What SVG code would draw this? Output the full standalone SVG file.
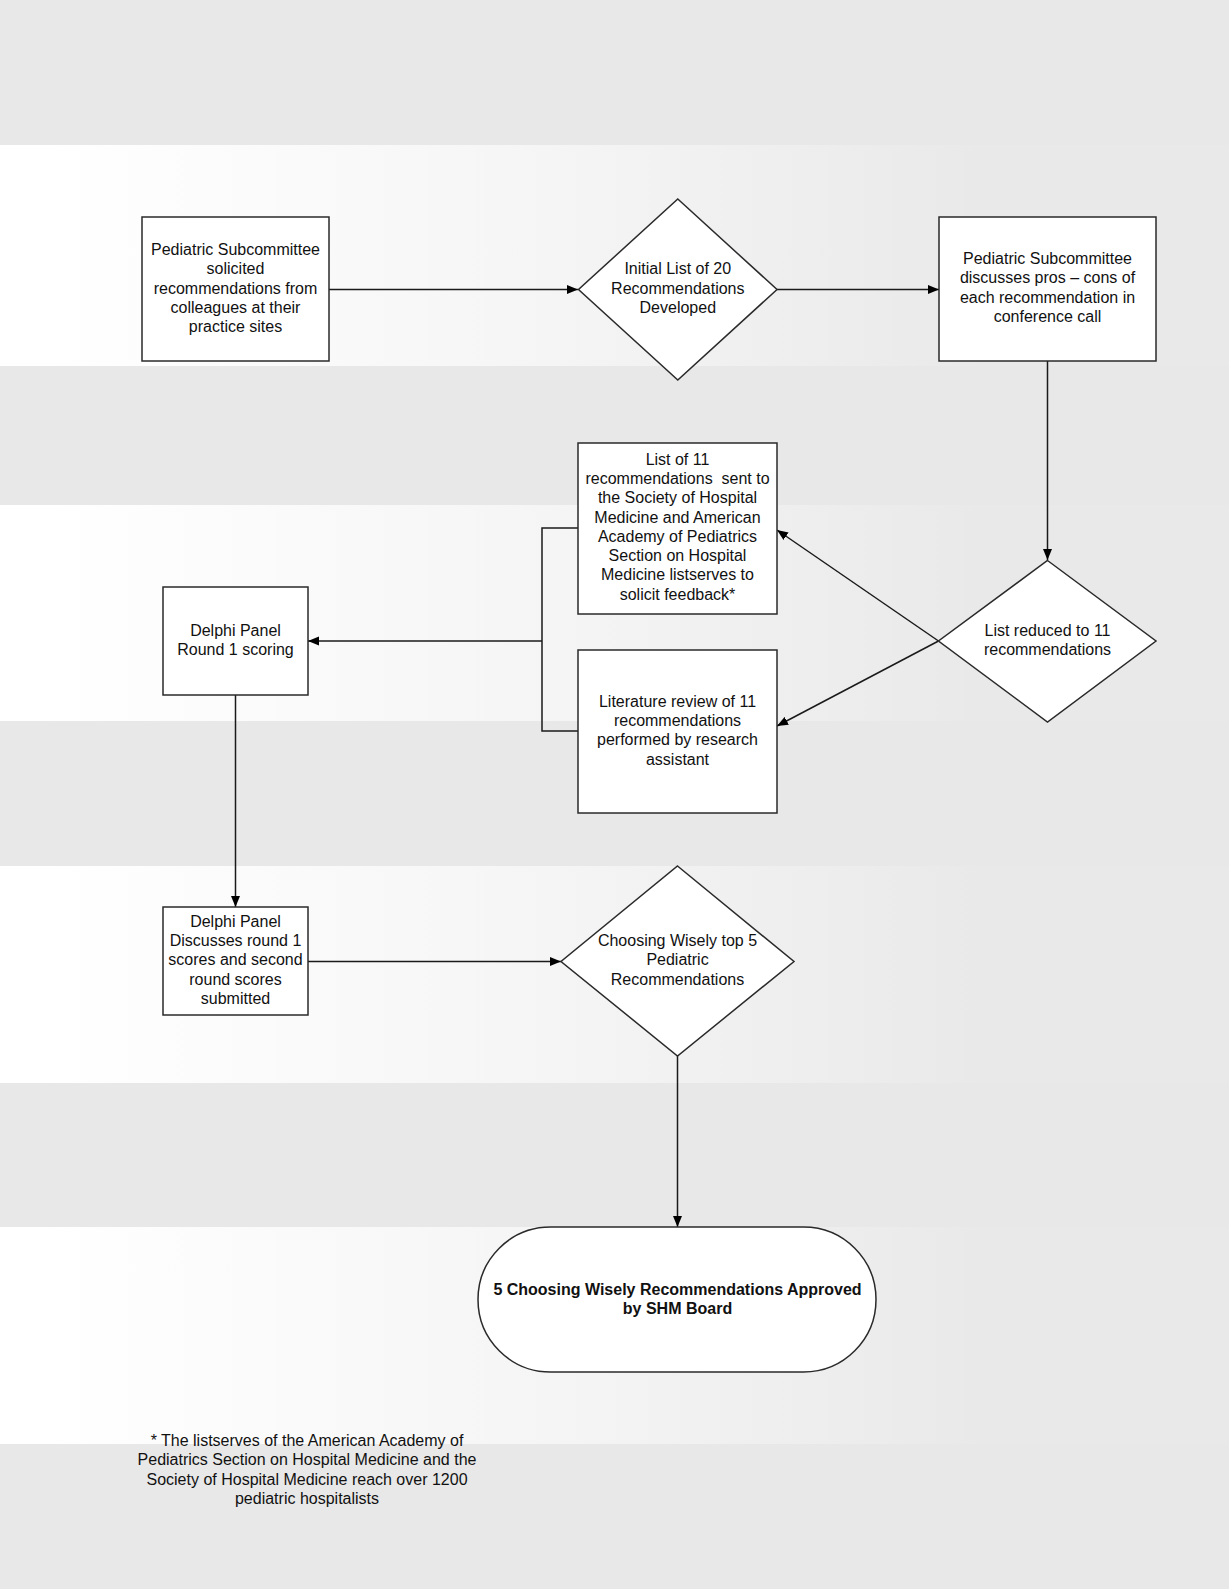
<svg xmlns="http://www.w3.org/2000/svg" width="1229" height="1589" viewBox="0 0 1229 1589">
<defs>
<linearGradient id="band" x1="0" y1="0" x2="1" y2="0">
<stop offset="0.04" stop-color="#ffffff"/>
<stop offset="0.45" stop-color="#f5f5f5"/>
<stop offset="0.8" stop-color="#e9e9e9"/>
</linearGradient>
<marker id="arr" markerUnits="userSpaceOnUse" markerWidth="12" markerHeight="10" refX="11" refY="5" orient="auto">
<path d="M0,0.5 L11,5 L0,9.5 z" fill="#000"/>
</marker>
<style>
.node{fill:#fff;stroke:#2a2a2a;stroke-width:1.5}
.lbl{font-family:"Liberation Sans",Arial,sans-serif;font-size:16px;fill:#111;text-anchor:middle}
.bold{font-weight:bold}
.conn{fill:none;stroke:#1a1a1a;stroke-width:1.5}
</style>
</defs>
<g id="background">
<rect x="0" y="0" width="1229" height="1589" fill="#e8e8e8"/>
<rect x="0" y="145" width="1229" height="221" fill="url(#band)"/>
<rect x="0" y="505" width="1229" height="216" fill="url(#band)"/>
<rect x="0" y="866" width="1229" height="217" fill="url(#band)"/>
<rect x="0" y="1227" width="1229" height="217" fill="url(#band)"/>
</g>
<g id="connectors">
<line class="conn" x1="329" y1="289.5" x2="578" y2="289.5" marker-end="url(#arr)"/>
<line class="conn" x1="777" y1="289.5" x2="939" y2="289.5" marker-end="url(#arr)"/>
<line class="conn" x1="1047.5" y1="361" x2="1047.5" y2="560" marker-end="url(#arr)"/>
<line class="conn" x1="938.5" y1="641" x2="777" y2="530" marker-end="url(#arr)"/>
<line class="conn" x1="938.5" y1="641" x2="777" y2="726" marker-end="url(#arr)"/>
<polyline class="conn" points="578,528 542,528 542,731 578,731"/>
<line class="conn" x1="542" y1="641" x2="308" y2="641" marker-end="url(#arr)"/>
<line class="conn" x1="235.5" y1="695" x2="235.5" y2="907" marker-end="url(#arr)"/>
<line class="conn" x1="308" y1="961.5" x2="561" y2="961.5" marker-end="url(#arr)"/>
<line class="conn" x1="677.5" y1="1056" x2="677.5" y2="1227" marker-end="url(#arr)"/>
</g>
<g id="n1">
<rect class="node" x="142" y="217" width="187" height="144"/>
<text class="lbl"><tspan x="235.5" y="254.5">Pediatric Subcommittee</tspan><tspan x="235.5" y="274">solicited</tspan><tspan x="235.5" y="293.5">recommendations from</tspan><tspan x="235.5" y="312.5">colleagues at their</tspan><tspan x="235.5" y="332">practice sites</tspan></text>
</g>
<g id="n2">
<polygon class="node" points="677.8,199 777,289.5 677.8,380 578.5,289.5"/>
<text class="lbl"><tspan x="677.8" y="274">Initial List of 20</tspan><tspan x="677.8" y="293.5">Recommendations</tspan><tspan x="677.8" y="312.5">Developed</tspan></text>
</g>
<g id="n3">
<rect class="node" x="939" y="217" width="217" height="144"/>
<text class="lbl"><tspan x="1047.5" y="263.5">Pediatric Subcommittee</tspan><tspan x="1047.5" y="283">discusses pros – cons of</tspan><tspan x="1047.5" y="302.5">each recommendation in</tspan><tspan x="1047.5" y="321.5">conference call</tspan></text>
</g>
<g id="n4">
<polygon class="node" points="1047.5,560.5 1156,641 1047.5,722 938.5,641"/>
<text class="lbl"><tspan x="1047.5" y="635.5">List reduced to 11</tspan><tspan x="1047.5" y="655">recommendations</tspan></text>
</g>
<g id="n5">
<rect class="node" x="578" y="443" width="199" height="171"/>
<text class="lbl" xml:space="preserve"><tspan x="677.5" y="464.5">List of 11</tspan><tspan x="677.5" y="483.5">recommendations  sent to</tspan><tspan x="677.5" y="503">the Society of Hospital</tspan><tspan x="677.5" y="522.5">Medicine and American</tspan><tspan x="677.5" y="541.5">Academy of Pediatrics</tspan><tspan x="677.5" y="560.5">Section on Hospital</tspan><tspan x="677.5" y="580">Medicine listserves to</tspan><tspan x="677.5" y="599.5">solicit feedback*</tspan></text>
</g>
<g id="n6">
<rect class="node" x="578" y="650" width="199" height="163"/>
<text class="lbl"><tspan x="677.5" y="706.5">Literature review of 11</tspan><tspan x="677.5" y="725.5">recommendations</tspan><tspan x="677.5" y="745">performed by research</tspan><tspan x="677.5" y="764.5">assistant</tspan></text>
</g>
<g id="n7">
<rect class="node" x="163" y="587" width="145" height="108"/>
<text class="lbl"><tspan x="235.5" y="635.5">Delphi Panel</tspan><tspan x="235.5" y="655">Round 1 scoring</tspan></text>
</g>
<g id="n8">
<rect class="node" x="163" y="907" width="145" height="108"/>
<text class="lbl"><tspan x="235.5" y="926.5">Delphi Panel</tspan><tspan x="235.5" y="945.5">Discusses round 1</tspan><tspan x="235.5" y="965">scores and second</tspan><tspan x="235.5" y="984.5">round scores</tspan><tspan x="235.5" y="1003.5">submitted</tspan></text>
</g>
<g id="n9">
<polygon class="node" points="677.5,866 794,961.5 677.5,1056 561,961.5"/>
<text class="lbl"><tspan x="677.5" y="945.5">Choosing Wisely top 5</tspan><tspan x="677.5" y="965">Pediatric</tspan><tspan x="677.5" y="984.5">Recommendations</tspan></text>
</g>
<g id="n10">
<rect class="node" x="478" y="1227" width="398" height="145" rx="72.5" ry="72.5"/>
<text class="lbl bold"><tspan x="677.5" y="1294.5">5 Choosing Wisely Recommendations Approved</tspan><tspan x="677.5" y="1314">by SHM Board</tspan></text>
</g>
<g id="footnote">
<text class="lbl"><tspan x="307" y="1445.5">* The listserves of the American Academy of</tspan><tspan x="307" y="1465">Pediatrics Section on Hospital Medicine and the</tspan><tspan x="307" y="1484.5">Society of Hospital Medicine reach over 1200</tspan><tspan x="307" y="1504">pediatric hospitalists</tspan></text>
</g>
</svg>
